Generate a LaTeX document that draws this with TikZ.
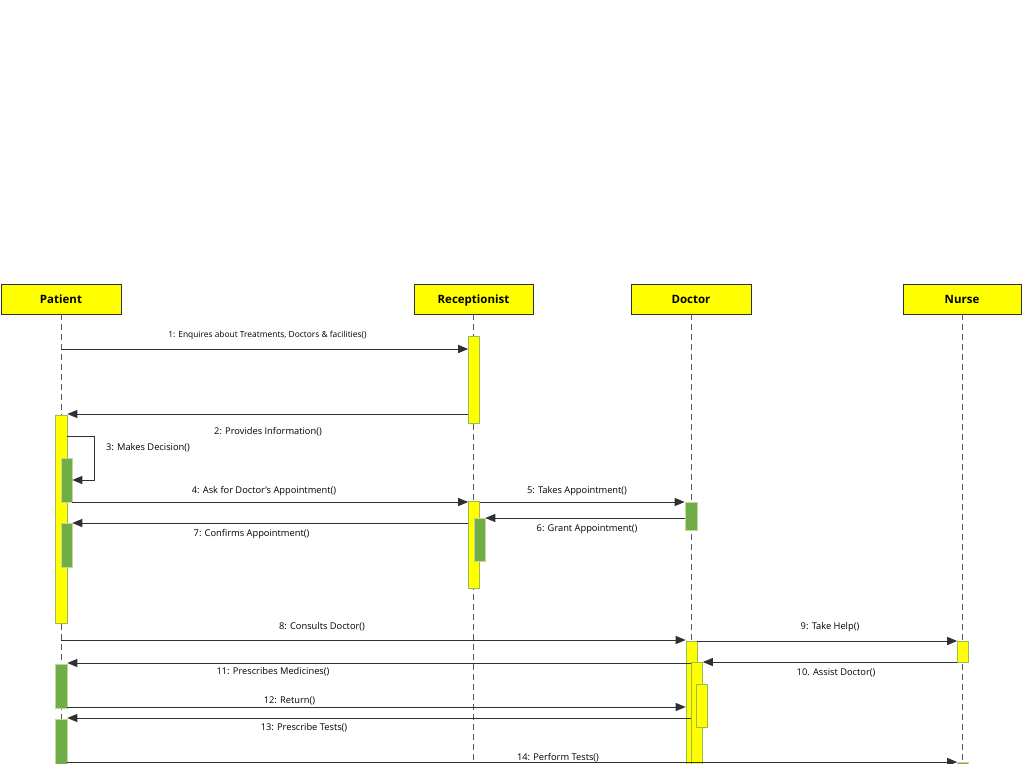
\documentclass[tikz,border=0pt]{standalone}
\usepackage{fontspec}
\setmainfont{Open Sans}
\usetikzlibrary{arrows.meta}
\definecolor{yel}{HTML}{FFFF00}
\definecolor{grn}{HTML}{70AD47}
\definecolor{actb}{HTML}{9BBB59}
\definecolor{lin}{HTML}{303030}
\definecolor{lifec}{HTML}{595959}
\begin{document}
\begin{tikzpicture}[x=1pt,y=-1pt,
 head/.style={draw=lin, fill=yel, minimum width=120pt, minimum height=30pt, inner sep=0pt, line width=0.8pt, text height=8.5pt, text depth=0.5pt, font=\fontsize{11.5}{13}\selectfont\bfseries},
 life/.style={draw=lifec, dash pattern=on 6pt off 4pt, line width=0.8pt},
 acty/.style={draw=actb, fill=yel, minimum width=11pt, inner sep=0pt, line width=0.6pt},
 actg/.style={draw=actb!60, fill=grn, minimum width=11pt, inner sep=0pt, line width=0.6pt},
 msg/.style={draw=lin, line width=1pt, -{Triangle[length=10pt,width=8pt]}},
 lbl/.style={inner sep=0pt, yshift=-1pt, font=\fontsize{9.3}{10}\selectfont},
]
\useasboundingbox (0,0) rectangle (1024,763);
% headers
\node[head] (Patient) at (61,299) {Patient};
\node[head, minimum width=119pt] (Receptionist) at (473.5,299) {Receptionist};
\node[head] (Doctor) at (691,299) {Doctor};
\node[head, minimum width=118pt] (Nurse) at (962,299) {Nurse};
% lifelines
\coordinate (Pend) at (61,770);
\coordinate (Rend) at (473.5,770);
\coordinate (Dend) at (691,770);
\coordinate (Nend) at (962,770);
\draw[life] (Patient.south) -- (Pend);
\draw[life] (Receptionist.south) -- (Rend);
\draw[life] (Doctor.south) -- (Dend);
\draw[life] (Nurse.south) -- (Nend);
% activations
\node[acty, minimum height=87pt] (r1) at (474,379.5) {};
\node[acty, minimum width=12pt, minimum height=208pt] (pa) at (61,519) {};
\node[actg, minimum height=44pt] (pg1) at (66.5,480) {};
\node[acty, minimum height=87pt] (r2) at (474,544.5) {};
\node[actg, minimum height=43pt] (rg) at (479.5,539.5) {};
\node[actg, minimum width=12pt, minimum height=28pt] (dg) at (691,516) {};
\node[actg, minimum height=44pt] (pg2) at (66.5,545) {};
\node[acty, minimum height=138pt] (d1) at (691.5,710) {};
\node[acty, minimum height=118pt] (d2) at (697,721) {};
\node[acty, minimum height=43pt] (d3) at (702,705.5) {};
\node[acty, minimum height=21pt] (n1) at (963,651.5) {};
\node[actg, minimum width=12pt, minimum height=44pt] (pg3) at (61,686) {};
\node[actg, minimum width=12pt, minimum height=71pt] (pg4) at (61,754.5) {};
\node[actg, minimum height=16pt] (ng) at (963,770) {};
% messages
\draw[msg] (Patient.south |- 0,349) -- (r1.west |- 0,349);
\node[lbl, font=\fontsize{8.4}{9}\selectfont] (l1) at (267.5,334) {1: Enquires about Treatments, Doctors \& facilities()};
\draw[msg] (r1.west |- 0,414) -- (pa.east |- 0,414);
\node[lbl] (l2) at (268,431) {2: Provides Information()};
\draw[msg] (pa.east |- 0,436) -- ++(27,0) |- (pg1.east);
\node[lbl] (l3) at (148,447) {3: Makes Decision()};
\draw[msg] (pg1.east |- 0,502) -- (r2.west |- 0,502);
\node[lbl] (l4) at (264,490) {4: Ask for Doctor's Appointment()};
\draw[msg] (r2.east |- 0,502) -- (dg.west |- 0,502);
\node[lbl] (l5) at (577,490) {5: Takes Appointment()};
\draw[msg] (dg.west |- 0,518) -- (rg.east |- 0,518);
\node[lbl] (l6) at (587,528) {6: Grant Appointment()};
\draw[msg] (r2.west |- 0,523) -- (pg2.east |- 0,523);
\node[lbl] (l7) at (251.5,533) {7: Confirms Appointment()};
\draw[msg] (Patient.south |- 0,640) -- (d1.west |- 0,640);
\node[lbl] (l8) at (322,626) {8: Consults Doctor()};
\draw[msg] (d1.east |- 0,641) -- (n1.west |- 0,641);
\node[lbl] (l9) at (830,626) {9: Take Help()};
\draw[msg] (n1.west |- 0,662) -- (d2.east |- 0,662);
\node[lbl] (l10) at (836,672) {10. Assist Doctor()};
\draw[msg] (d2.west |- 0,663) -- (pg3.east |- 0,663);
\node[lbl] (l11) at (273,671) {11: Prescribes Medicines()};
\draw[msg] (pg3.east |- 0,707) -- (d1.west |- 0,707);
\node[lbl] (l12) at (289.5,700) {12: Return()};
\draw[msg] (d2.west |- 0,718) -- (pg4.east |- 0,718);
\node[lbl] (l13) at (304,727) {13: Prescribe Tests()};
\draw[msg] (pg4.east |- 0,762) -- (ng.west |- 0,762);
\node[lbl] (l14) at (558,757) {14: Perform Tests()};
\end{tikzpicture}
\end{document}
